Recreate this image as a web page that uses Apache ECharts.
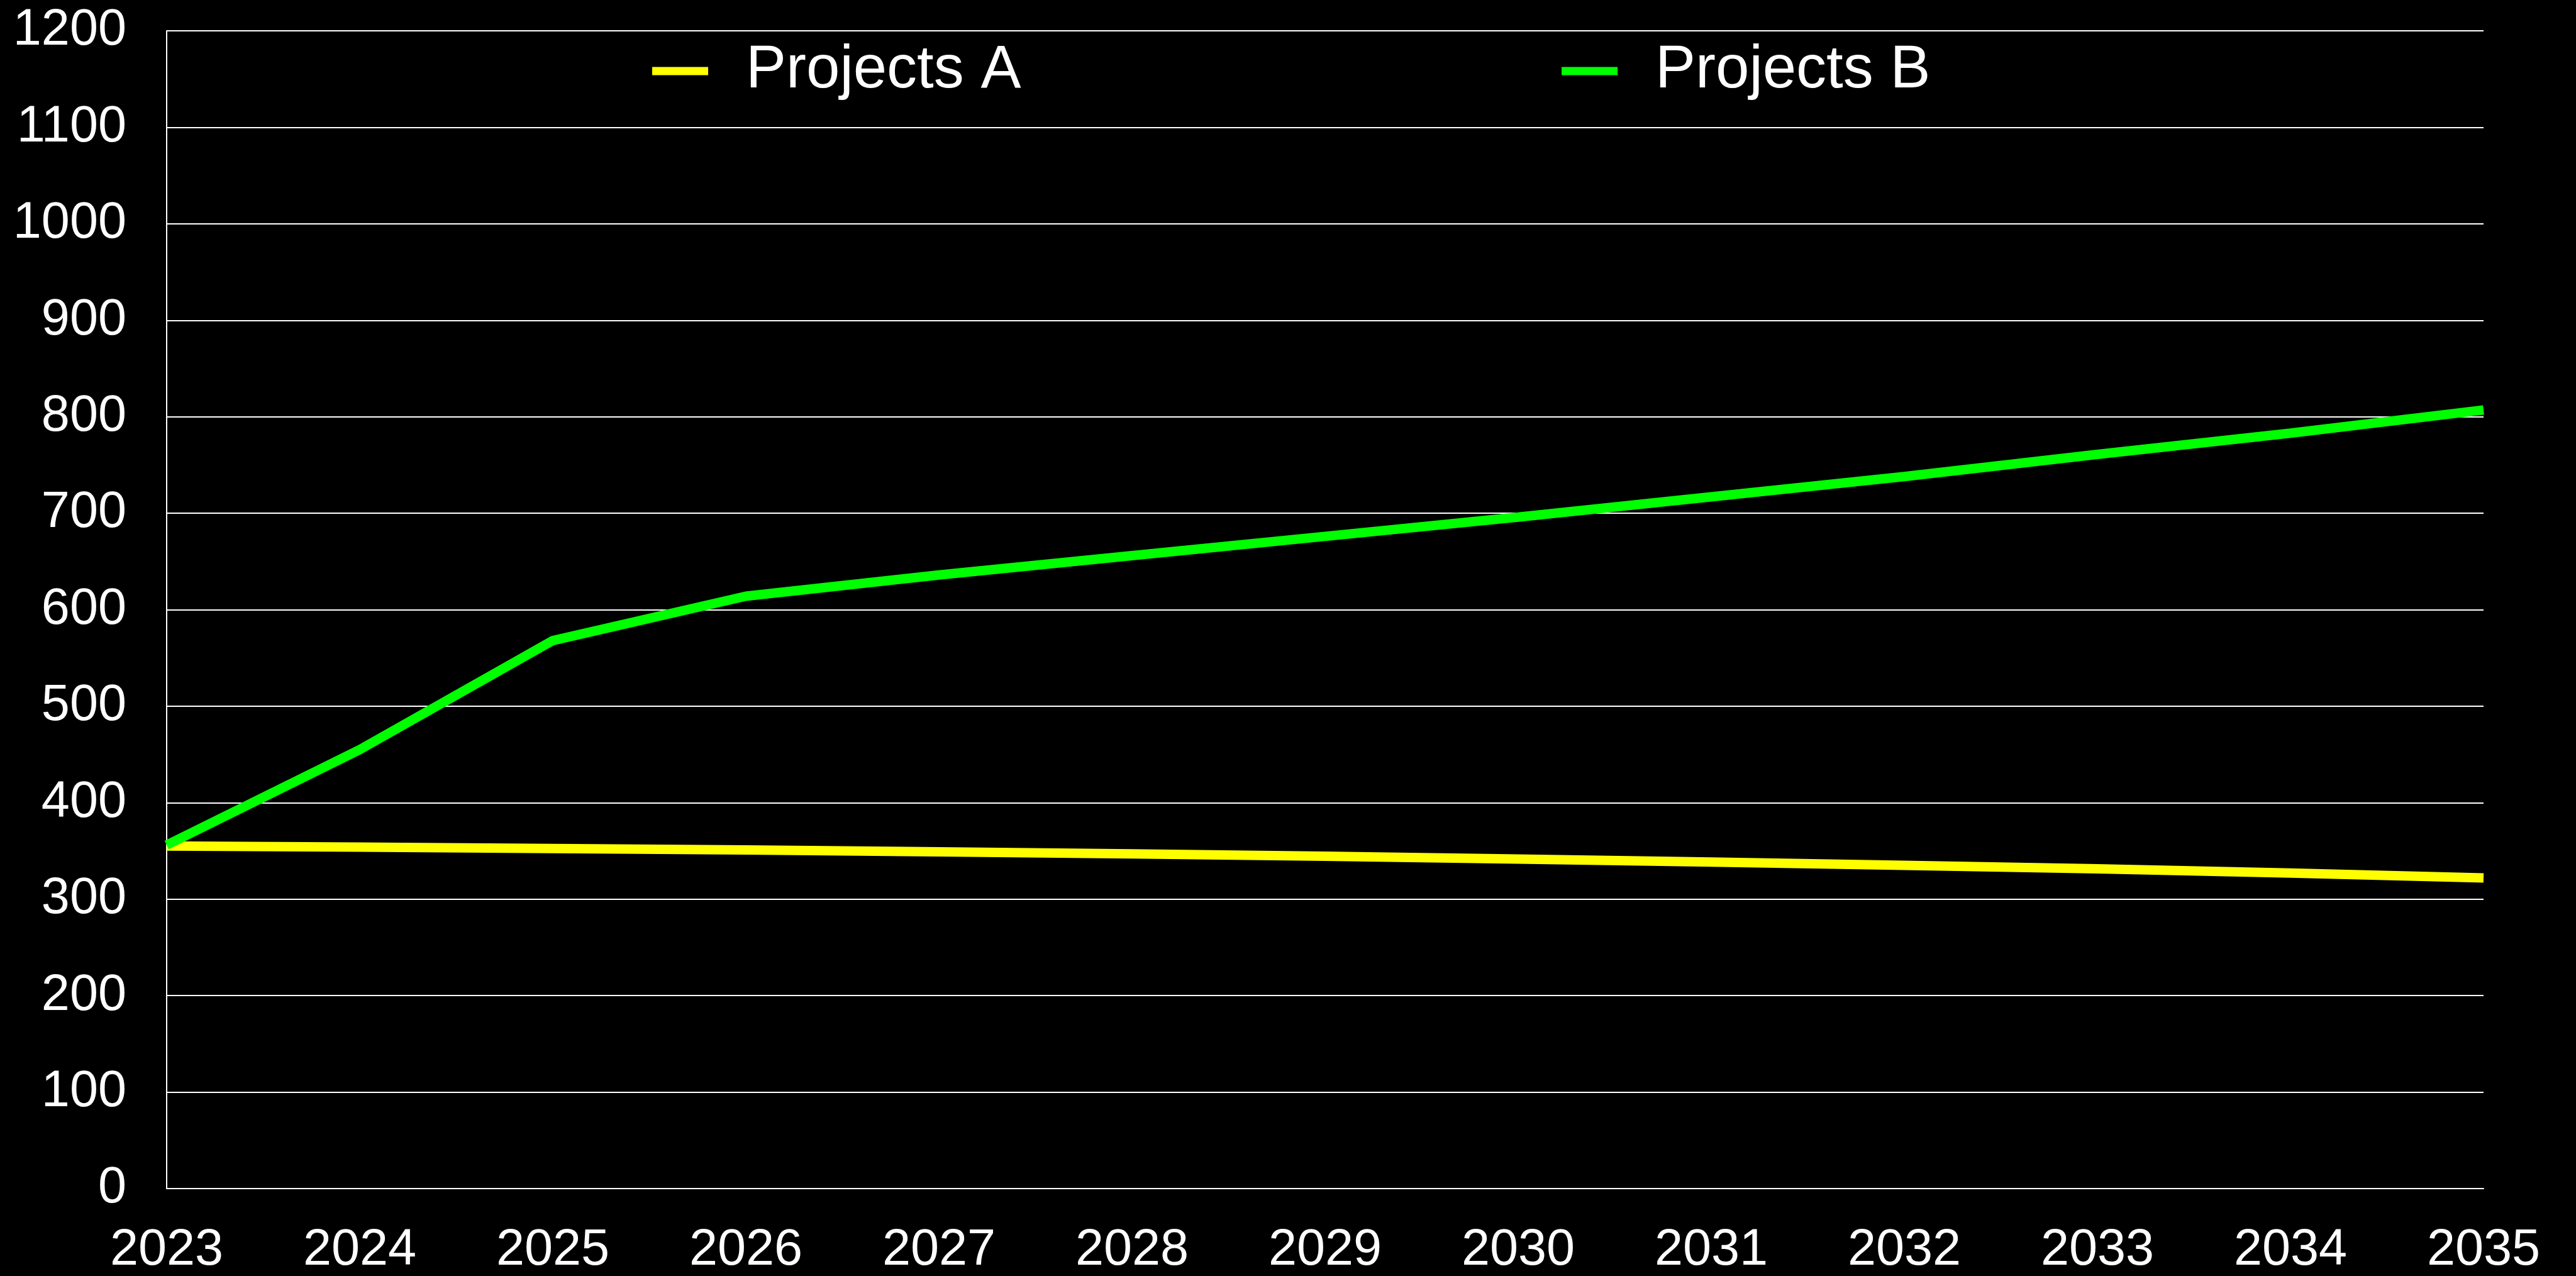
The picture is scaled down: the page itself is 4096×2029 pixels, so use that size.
<!DOCTYPE html>
<html>
<head>
<meta charset="utf-8">
<script src="https://cdn.jsdelivr.net/npm/echarts@6/dist/echarts.min.js"></script>
<style>
html,body{margin:0;padding:0;background:#000;}
#chart{width:4096px;height:2029px;}
</style>
</head>
<body>
<div id="chart"></div>
<script>
const years = ['2023','2024','2025','2026','2027','2028','2029','2030','2031','2032','2033','2034','2035'];
const projectsA = [355, 354, 352.5, 351, 349, 347, 344.5, 341.5, 338.5, 335, 331.5, 327, 322];
const projectsB = [356, 455, 568, 614, 636, 656, 676, 696, 717, 738, 761, 783, 807];
const yTicks = {min: 0, max: 1200, interval: 100};
const seriesNames = ['Projects A', 'Projects B'];
const seriesColors = ['#ffff00', '#00ff00'];

const chart = echarts.init(document.getElementById('chart'), null, {renderer: 'canvas'});
const font = '"Liberation Sans", Arial, Helvetica, sans-serif';
const legendBase = {
  top: 60,
  icon: 'rect',
  itemWidth: 89,
  itemHeight: 13,
  textStyle: {color: '#ffffff', fontSize: 96, fontFamily: font, padding: [0, 0, 0, 55]}
};
chart.setOption({
  backgroundColor: '#000000',
  animation: false,
  grid: {left: 265, right: 147, top: 49, bottom: 135.5, containLabel: false},
  legend: [
    Object.assign({}, legendBase, {left: 1032, data: [seriesNames[0]]}),
    Object.assign({}, legendBase, {left: 2478, data: [seriesNames[1]]})
  ],
  xAxis: {
    type: 'category',
    data: years,
    boundaryGap: false,
    axisLine: {show: true, lineStyle: {color: '#ffffff', width: 2}},
    axisTick: {show: false},
    axisLabel: {color: '#ffffff', fontSize: 81, fontFamily: font, margin: 58, interval: 0},
    splitLine: {show: false}
  },
  yAxis: {
    type: 'value',
    min: yTicks.min,
    max: yTicks.max,
    interval: yTicks.interval,
    axisLine: {show: true, lineStyle: {color: '#ffffff', width: 2}},
    axisTick: {show: false},
    axisLabel: {color: '#ffffff', fontSize: 81, fontFamily: font, margin: 64,
      padding: [14, 0, 0, 0],
      formatter: function (v) { return String(v); }},
    splitLine: {show: true, lineStyle: {color: '#ffffff', width: 2}}
  },
  series: [
    {
      name: seriesNames[0], type: 'line', data: projectsA,
      showSymbol: false, symbol: 'none',
      lineStyle: {color: seriesColors[0], width: 15},
      itemStyle: {color: seriesColors[0]}
    },
    {
      name: seriesNames[1], type: 'line', data: projectsB,
      showSymbol: false, symbol: 'none',
      lineStyle: {color: seriesColors[1], width: 15},
      itemStyle: {color: seriesColors[1]}
    }
  ]
});
</script>
</body>
</html>
